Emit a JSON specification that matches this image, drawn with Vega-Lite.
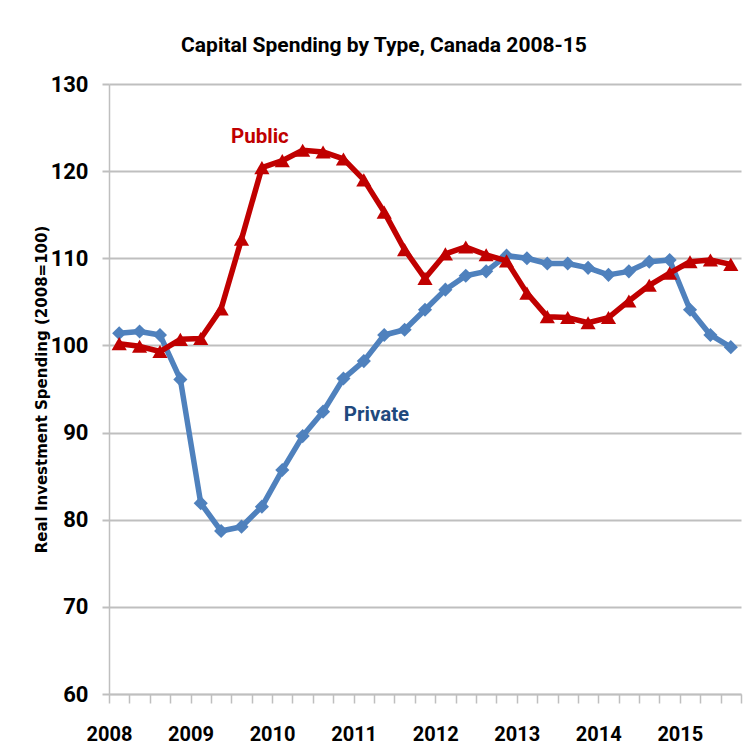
{
  "$schema": "https://vega.github.io/schema/vega-lite/v6.json",
  "width": 632,
  "height": 610,
  "autosize": {"type": "none"},
  "padding": {"left": 109, "top": 84, "right": 11, "bottom": 61},
  "background": "white",
  "title": {
    "text": "Capital Spending by Type, Canada 2008-15",
    "font": "Roboto",
    "fontSize": 21,
    "fontWeight": "bold",
    "color": "#000000",
    "anchor": "middle",
    "frame": "group",
    "dx": -41,
    "offset": 17
  },
  "config": {
    "view": {"stroke": null},
    "axis": {
      "labelFont": "Roboto",
      "labelFontWeight": "bold",
      "labelColor": "#000000",
      "domainColor": "#bfbfbf",
      "domainWidth": 1.5,
      "tickColor": "#bfbfbf",
      "tickWidth": 1.5
    }
  },
  "datasets": {
    "series": [
      {"t": 0, "series": "Private", "value": 101.4},
      {"t": 1, "series": "Private", "value": 101.6},
      {"t": 2, "series": "Private", "value": 101.2},
      {"t": 3, "series": "Private", "value": 96.1},
      {"t": 4, "series": "Private", "value": 81.9},
      {"t": 5, "series": "Private", "value": 78.7},
      {"t": 6, "series": "Private", "value": 79.2},
      {"t": 7, "series": "Private", "value": 81.5},
      {"t": 8, "series": "Private", "value": 85.7},
      {"t": 9, "series": "Private", "value": 89.6},
      {"t": 10, "series": "Private", "value": 92.4},
      {"t": 11, "series": "Private", "value": 96.2},
      {"t": 12, "series": "Private", "value": 98.2},
      {"t": 13, "series": "Private", "value": 101.2},
      {"t": 14, "series": "Private", "value": 101.8},
      {"t": 15, "series": "Private", "value": 104.1},
      {"t": 16, "series": "Private", "value": 106.4},
      {"t": 17, "series": "Private", "value": 108.0},
      {"t": 18, "series": "Private", "value": 108.5},
      {"t": 19, "series": "Private", "value": 110.3},
      {"t": 20, "series": "Private", "value": 110.0},
      {"t": 21, "series": "Private", "value": 109.4},
      {"t": 22, "series": "Private", "value": 109.4},
      {"t": 23, "series": "Private", "value": 108.9},
      {"t": 24, "series": "Private", "value": 108.1},
      {"t": 25, "series": "Private", "value": 108.5},
      {"t": 26, "series": "Private", "value": 109.6},
      {"t": 27, "series": "Private", "value": 109.8},
      {"t": 28, "series": "Private", "value": 104.1},
      {"t": 29, "series": "Private", "value": 101.2},
      {"t": 30, "series": "Private", "value": 99.8},
      {"t": 0, "series": "Public", "value": 100.2},
      {"t": 1, "series": "Public", "value": 99.9},
      {"t": 2, "series": "Public", "value": 99.3},
      {"t": 3, "series": "Public", "value": 100.7},
      {"t": 4, "series": "Public", "value": 100.8},
      {"t": 5, "series": "Public", "value": 104.2},
      {"t": 6, "series": "Public", "value": 112.2},
      {"t": 7, "series": "Public", "value": 120.4},
      {"t": 8, "series": "Public", "value": 121.2},
      {"t": 9, "series": "Public", "value": 122.4},
      {"t": 10, "series": "Public", "value": 122.2},
      {"t": 11, "series": "Public", "value": 121.4},
      {"t": 12, "series": "Public", "value": 119.0},
      {"t": 13, "series": "Public", "value": 115.3},
      {"t": 14, "series": "Public", "value": 111.0},
      {"t": 15, "series": "Public", "value": 107.7},
      {"t": 16, "series": "Public", "value": 110.5},
      {"t": 17, "series": "Public", "value": 111.3},
      {"t": 18, "series": "Public", "value": 110.4},
      {"t": 19, "series": "Public", "value": 109.7},
      {"t": 20, "series": "Public", "value": 106.0},
      {"t": 21, "series": "Public", "value": 103.3},
      {"t": 22, "series": "Public", "value": 103.2},
      {"t": 23, "series": "Public", "value": 102.6},
      {"t": 24, "series": "Public", "value": 103.2},
      {"t": 25, "series": "Public", "value": 105.1},
      {"t": 26, "series": "Public", "value": 106.9},
      {"t": 27, "series": "Public", "value": 108.3},
      {"t": 28, "series": "Public", "value": 109.6},
      {"t": 29, "series": "Public", "value": 109.8},
      {"t": 30, "series": "Public", "value": 109.3}
    ],
    "labels": [
      {"t": 6.9, "value": 123.9, "label": "Public"},
      {"t": 12.62, "value": 92.0, "label": "Private"}
    ]
  },
  "encoding": {
    "x": {
      "field": "t",
      "type": "quantitative",
      "scale": {"domain": [-0.5, 30.5], "nice": false, "zero": false},
      "axis": {
        "title": null,
        "grid": false,
        "values": [-0.5, 0.5, 1.5, 2.5, 3.5, 4.5, 5.5, 6.5, 7.5, 8.5, 9.5, 10.5, 11.5, 12.5, 13.5, 14.5, 15.5, 16.5, 17.5, 18.5, 19.5, 20.5, 21.5, 22.5, 23.5, 24.5, 25.5, 26.5, 27.5, 28.5, 29.5, 30.5],
        "labelExpr": "((datum.value + 0.5) % 4 == 0) ? ('' + (2008 + (datum.value + 0.5) / 4)) : ''",
        "labelDx": 10.2,
        "labelFontSize": 20,
        "labelPadding": 21,
        "labelOverlap": false,
        "labelBound": false,
        "labelFlush": false,
        "tickSize": 9
      }
    },
    "y": {
      "field": "value",
      "type": "quantitative",
      "scale": {"domain": [60, 130], "nice": false, "zero": false},
      "axis": {
        "title": "Real Investment Spending (2008=100)",
        "titleFont": "DejaVu Sans",
        "titleFontSize": 15,
        "titleFontWeight": "bold",
        "titleColor": "#000000",
        "titlePadding": 1,
        "values": [60, 70, 80, 90, 100, 110, 120, 130],
        "grid": true,
        "gridColor": "#bfbfbf",
        "gridWidth": 2,
        "labelFontSize": 22,
        "labelPadding": 14,
        "tickSize": 7,
        "tickWidth": 2
      }
    }
  },
  "layer": [
    {
      "data": {"name": "series"},
      "transform": [{"filter": "datum.series == 'Private'"}],
      "mark": {"type": "line", "color": "#4F81BD", "strokeWidth": 5.5, "strokeJoin": "round"}
    },
    {
      "data": {"name": "series"},
      "transform": [{"filter": "datum.series == 'Private'"}],
      "mark": {"type": "point", "shape": "diamond", "filled": true, "color": "#4F81BD", "opacity": 1, "size": 200}
    },
    {
      "data": {"name": "series"},
      "transform": [{"filter": "datum.series == 'Public'"}],
      "mark": {"type": "line", "color": "#C00000", "strokeWidth": 5.5, "strokeJoin": "round"}
    },
    {
      "data": {"name": "series"},
      "transform": [{"filter": "datum.series == 'Public'"}],
      "mark": {"type": "point", "shape": "triangle-up", "filled": true, "color": "#C00000", "opacity": 1, "size": 230}
    },
    {
      "data": {"name": "labels"},
      "mark": {"type": "text", "font": "Roboto", "fontSize": 20.5, "fontWeight": "bold", "align": "center", "baseline": "middle"},
      "encoding": {
        "text": {"field": "label"},
        "color": {
          "field": "label",
          "type": "nominal",
          "scale": {"domain": ["Public", "Private"], "range": ["#C00000", "#1F497D"]},
          "legend": null
        }
      }
    }
  ]
}
